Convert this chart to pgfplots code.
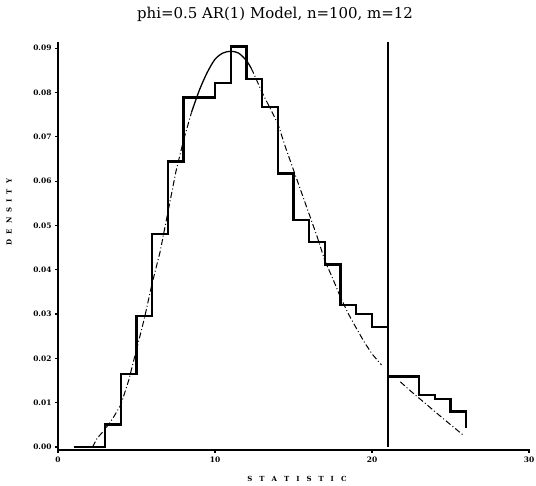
\documentclass[border=0pt]{standalone}
\usepackage{fontspec}
\setmainfont{DejaVu Serif}
\usepackage{pgfplots}
\pgfplotsset{compat=1.18}
\usetikzlibrary{calc}

\begin{document}
\begin{tikzpicture}
\begin{axis}[
  name=ax, scale only axis, width=472bp, height=408bp,
  xmin=0, xmax=30.06, ymin=-0.00068, ymax=0.0914,
  axis lines=left, axis line style={-, line width=1.8bp},
  xtick={0,10,20,30},
  ytick={0,0.01,0.02,0.03,0.04,0.05,0.06,0.07,0.08,0.09},
  scaled y ticks=false,
  tick align=outside, major tick length=3bp,
  tick style={line width=1.2bp, black},
  ticklabel style={font=\fontsize{7.5}{8}\selectfont\bfseries},
  yticklabel style={/pgf/number format/.cd, fixed, fixed zerofill, precision=2, assume math mode=true},
  xticklabel style={/pgf/number format/assume math mode=true},
  clip=false,
]
% histogram of the statistic (left of the cut)
\addplot[const plot, line width=2.3bp, black] coordinates {
  (1,0) (3,0.0051) (4,0.0164) (5,0.0296) (6,0.0480) (7,0.0644)
  (8,0.0789) (10,0.0821) (11,0.0904) (12,0.0830) (13,0.0768)
  (14,0.0617) (15,0.0512) (16,0.0463) (17,0.0412) (18,0.0320)
  (19,0.0300) (20,0.0270) (21,0.0270)
};
% right of the cut
\addplot[const plot, line width=2.3bp, black] coordinates {
  (21,0.0159) (23,0.0117) (24,0.0108) (25,0.0080) (26,0.0043)
};
% cut line
\addplot[line width=2.4bp, black] coordinates {(21,0) (21,0.0914)};
% approximating density
\addplot[line width=1bp, black, dash pattern=on 6bp off 2.5bp on 1bp off 2.5bp] coordinates {
  (2.2,0.0) (2.5,0.002) (3.0,0.004) (3.5,0.0065) (4.0,0.0095) (4.5,0.015)
  (5.0,0.022) (5.5,0.029) (6.0,0.037) (6.5,0.044) (7.0,0.053) (7.5,0.062)
  (8.0,0.0693) (8.5,0.0755)
};
\addplot[line width=1.3bp, black, smooth] coordinates {
  (8.5,0.0755) (9.0,0.0805) (9.5,0.0845) (10.0,0.0875) (10.5,0.0889)
  (11.0,0.0893) (11.5,0.0889) (12.0,0.0872) (12.3,0.0855)
};
\addplot[line width=1bp, black, dash pattern=on 6bp off 2.5bp on 1bp off 2.5bp] coordinates {
  (12.3,0.0855) (12.5,0.084) (13.0,0.080) (13.5,0.0765) (14.0,0.073)
  (14.5,0.0675) (15.0,0.0625) (15.5,0.0575) (16.0,0.0525) (16.5,0.0475)
  (17.0,0.042) (17.5,0.038) (18.0,0.0337) (18.5,0.030) (19.0,0.0268)
  (19.5,0.0237) (20.0,0.021) (20.6,0.0185)
};
\addplot[line width=1bp, black, dash pattern=on 6bp off 2.5bp on 1bp off 2.5bp] coordinates {
  (21.8,0.0147) (22.5,0.0125) (23.5,0.0095) (24.5,0.0065) (25.8,0.0027)
};
\end{axis}
\node[font=\fontsize{15}{17}\selectfont] at ($(ax.north west)+(217bp,28bp)$) {phi=0.5 AR(1) Model, n=100, m=12};
\node[font=\fontsize{7}{8}\selectfont\bfseries] at ($(ax.south west)+(239bp,-29bp)$) {S\hspace{7bp}T\hspace{7bp}A\hspace{7bp}T\hspace{7bp}I\hspace{7bp}S\hspace{7bp}T\hspace{7bp}I\hspace{7bp}C};
\node[font=\fontsize{7}{8}\selectfont\bfseries, rotate=90] at ($(ax.north west)+(-49bp,-170bp)$) {D\hspace{5bp}E\hspace{5bp}N\hspace{5bp}S\hspace{5bp}I\hspace{5bp}T\hspace{5bp}Y};
\pgfresetboundingbox
\path ($(ax.south west)+(-58bp,-36bp)$) rectangle ($(ax.north east)+(6bp,42bp)$);
\end{tikzpicture}
\end{document}
